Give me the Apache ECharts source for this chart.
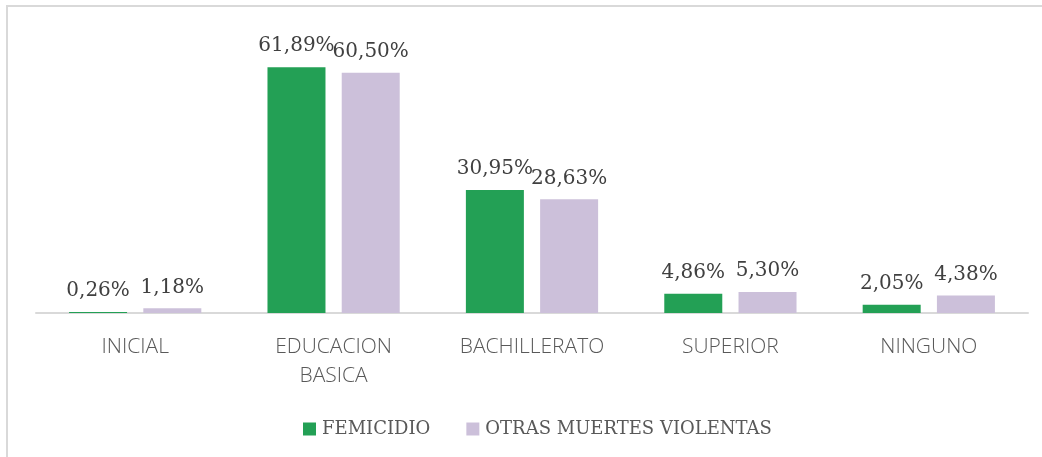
<!DOCTYPE html>
<html>
<head>
<meta charset="utf-8">
<script src="https://cdn.jsdelivr.net/npm/echarts@6/dist/echarts.min.js"></script>
<style>
    html, body { margin: 0; padding: 0; background: #fff; }
    #main { width: 1042px; height: 457px; }
</style>
</head>
<body>
<div id="main"></div>
<script>
    // datos
    var categorias = ['INICIAL', 'EDUCACION\nBASICA', 'BACHILLERATO', 'SUPERIOR', 'NINGUNO'];
    var femicidio = [0.26, 61.89, 30.95, 4.86, 2.05];
    var otrasMuertes = [1.18, 60.50, 28.63, 5.30, 4.38];

    var chart = echarts.init(document.getElementById('main'));

    var etiqueta = {
        show: true,
        position: 'top',
        distance: 11,
        fontFamily: 'DejaVu Serif',
        fontSize: 20,
        color: '#404040',
        formatter: function (p) {
            return p.value.toFixed(2).replace('.', ',') + '%';
        }
    };

    var option = {
        animation: false,
        graphic: [{
            type: 'rect',
            shape: { x: 7, y: 6, width: 1100, height: 520 },
            style: { fill: 'none', stroke: '#d9d9d9', lineWidth: 2 },
            silent: true
        }],
        legend: {
            data: ['FEMICIDIO', 'OTRAS MUERTES VIOLENTAS'],
            left: 298,
            top: 415,
            itemWidth: 13,
            itemHeight: 13,
            itemGap: 36,
            icon: 'rect',
            textStyle: {
                fontFamily: 'DejaVu Serif',
                fontSize: 18,
                color: '#595959',
                padding: [0, 0, 0, 1]
            }
        },
        grid: {
            left: 36,
            right: 14,
            top: 35,
            bottom: 144
        },
        xAxis: {
            type: 'category',
            data: categorias,
            axisLine: { lineStyle: { color: '#d9d9d9', width: 2 } },
            axisTick: { show: false },
            axisLabel: {
                margin: 20,
                fontFamily: 'Open Sans',
                fontWeight: 300,
                fontSize: 21,
                lineHeight: 29,
                color: '#595959'
            }
        },
        yAxis: {
            type: 'value',
            min: 0,
            max: 70,
            show: false
        },
        series: [{
                name: 'FEMICIDIO',
                type: 'bar',
                barWidth: 58,
                barGap: '28%',
                itemStyle: { color: '#23a055' },
                label: etiqueta,
                data: femicidio
            },
            {
                name: 'OTRAS MUERTES VIOLENTAS',
                type: 'bar',
                barWidth: 58,
                barGap: '28%',
                itemStyle: { color: '#ccc0da' },
                label: etiqueta,
                data: otrasMuertes
            }
        ]
    };
    chart.setOption(option);
</script>
</body>
</html>
